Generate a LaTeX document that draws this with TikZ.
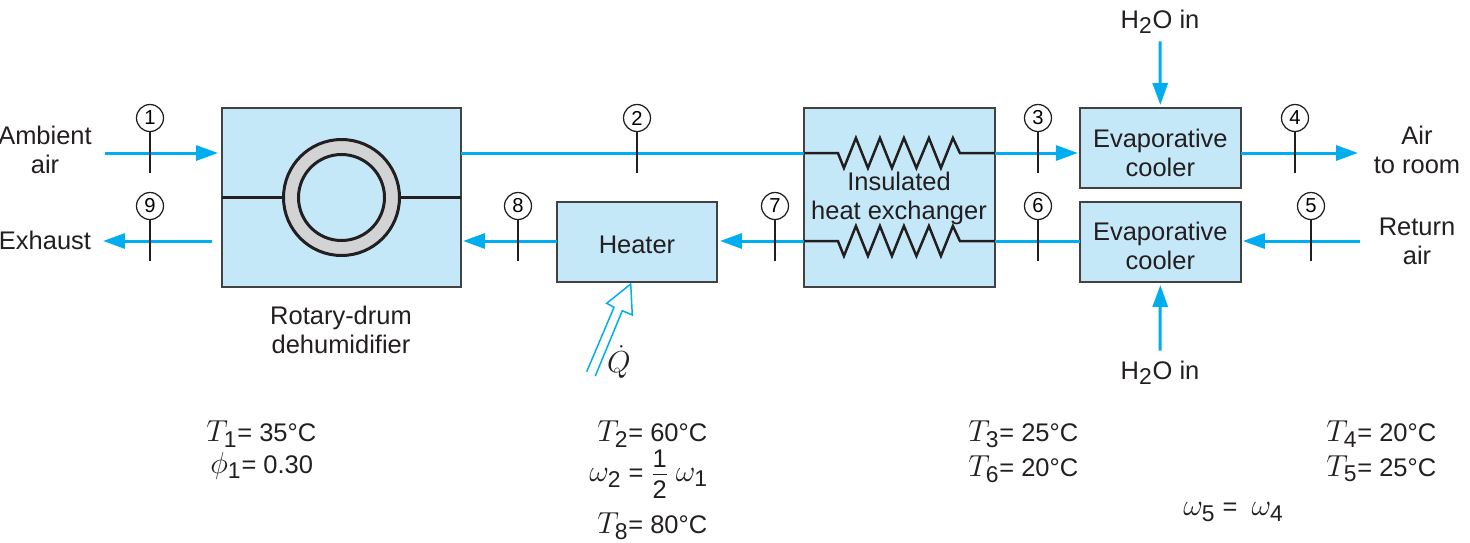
\documentclass[tikz,border=0pt]{standalone}
\usepackage{fontspec}
\setmainfont{Liberation Sans}
\DeclareMathSizes{14.5}{16.5}{13}{11}
\usetikzlibrary{positioning, arrows.meta}
\definecolor{flowblue}{HTML}{00AEEF}
\definecolor{boxblue}{HTML}{C5E8F9}
\definecolor{ringgray}{HTML}{D1D3D4}
\definecolor{inkdark}{HTML}{231F20}
\tikzset{
  box/.style     = {draw=inkdark!85, fill=boxblue, line width=0.04cm, inner sep=0pt, outer sep=0pt, align=center},
  wire/.style    = {draw=inkdark, line width=0.05cm},
  flow/.style    = {draw=flowblue, line width=0.06cm},
  arrow/.style   = {flow, -{Triangle[length=0.44cm, width=0.3cm]}},
  tag/.style     = {draw=inkdark, fill=white, circle, line width=0.025cm, minimum size=0.54cm, inner sep=0pt, font=\fontsize{11.5}{12}\selectfont},
  tick/.style    = {draw=inkdark, line width=0.025cm},
  label/.style   = {align=center, inner sep=0pt, text=inkdark},
  eqn/.style     = {anchor=west, inner sep=0pt, text=inkdark}
}
\begin{document}
\begin{tikzpicture}[x=0.02cm, y=-0.02cm,
  font=\fontsize{14.5}{16.5}\selectfont,
  coil/.pic={\draw[wire] (0,0) -- (34,0) -- (40,15) -- (52,-15) -- (64,15) -- (76,-15) -- (88,15) -- (100,-15)
    -- (112.5,15) -- (125,-15) -- (137,15) -- (149,-15) -- (156,0) -- (191,0);}
]
  \useasboundingbox (0,0) rectangle (1470,542);
  \coordinate (rowup) at (0,153);
  \coordinate (rowlo) at (0,241);

  % boxes
  \node[box, minimum width=4.78cm, minimum height=3.58cm] (drum) at (341.5,197.5) {};
  \node[box, minimum width=3.82cm, minimum height=3.58cm, right=6.86cm of drum] (hx) {};
  \node[box, minimum width=3.2cm, minimum height=1.6cm] (heater) at (637,242) {};
  \node[box, minimum width=3.22cm, minimum height=1.6cm, right=1.7cm of hx.north east, anchor=north west] (cool1) {};
  \node[box, minimum width=3.22cm, minimum height=1.6cm, below=0.28cm of cool1] (cool2) {};

  % drum wheel
  \draw[wire] (drum.west) -- (drum.east);
  \node[draw=inkdark, line width=0.06cm, fill=ringgray, circle, minimum size=2.32cm, inner sep=0pt] (ring) at (drum.center) {};
  \node[draw=inkdark, line width=0.06cm, fill=boxblue, circle, minimum size=1.72cm, inner sep=0pt] (bore) at (drum.center) {};

  % text
  \node[label] (heattxt) at ([yshift=-0.06cm] heater.center) {Heater};
  \node[label] (cooltxt1) at ([yshift=-0.09cm] cool1.center) {Evaporative\\cooler};
  \node[label] (cooltxt2) at ([yshift=-0.07cm] cool2.center) {Evaporative\\cooler};
  \node[label] (ambient) at (45,150) {Ambient\\air};
  \node[label] (exhaust) at (45,240) {Exhaust};
  \node[label] (drumtxt) at (341,330) {Rotary-drum\\dehumidifier};
  \node[label] (hxtxt) at (899,198) {Insulated\\heat exchanger};
  \node[label] (room) at (1417,150) {Air\\to room};
  \node[label] (return) at (1417,241) {Return\\air};
  \node[label] (h2oup) at (1160,22) {H$_{\mathrm{2}}$O in};
  \node[label] (h2olo) at (1160,373) {H$_{\mathrm{2}}$O in};
  \coordinate (inair) at (105,153);
  \coordinate (outair) at (103,241);
  \coordinate (roomend) at (1358,153);
  \coordinate (retend) at (1360,241);

  % flows
  \draw[arrow] (inair) -- ([xshift=-0.08cm] drum.west |- rowup);
  \draw[arrow] ([xshift=-0.2cm] drum.west |- rowlo) -- (outair);
  \draw[flow] (drum.east |- rowup) -- (hx.west |- rowup);
  \draw[arrow] (hx.east |- rowup) -- ([xshift=-0.04cm] cool1.west |- rowup);
  \draw[arrow] (cool1.east |- rowup) -- (roomend);
  \draw[arrow] (retend) -- ([xshift=0.04cm] cool2.east |- rowlo);
  \draw[flow] (cool2.west |- rowlo) -- (hx.east |- rowlo);
  \draw[arrow] (hx.west |- rowlo) -- ([xshift=0.06cm] heater.east |- rowlo);
  \draw[arrow] (heater.west |- rowlo) -- ([xshift=0.04cm] drum.east |- rowlo);
  \draw[arrow] ([yshift=-0.14cm] h2oup.south) -- ([yshift=0.06cm] cool1.north);
  \draw[arrow] ([yshift=0.2cm] h2olo.north) -- ([yshift=-0.06cm] cool2.south);

  \pic at (hx.west |- rowup) {coil};
  \pic at (hx.west |- rowlo) {coil};

  % state points
  \foreach \n/\x/\y in {1/150/118, 2/637/118, 3/1038/118, 4/1295/118, 5/1311/206, 6/1038/206, 7/775/206, 8/518/206, 9/150/206} {
    \node[tag] (st\n) at (\x,\y) {\n};
    \draw[tick] (st\n.south) -- ++(0,41);
  }

  % heat input
  \coordinate (qtip) at (630.7,284);
  \draw[draw=flowblue, line width=0.03cm] (586.7,371.7) -- (614,307.3) -- (606.7,303.3) -- (qtip) -- (632.3,315) -- (622.3,310.7) -- (595.3,376);
  \node[label] (qdot) at (619,362) {$\dot{Q}$};

  % data
  \node[eqn] (t1) at (206,434) {$T_{\mathrm{1}}$= 35°C};
  \node[eqn] (phi1) at (210,466) {$\phi_{\mathrm{1}}$= 0.30};
  \node[eqn] (t2) at (597,434) {$T_{\mathrm{2}}$= 60°C};
  \node[eqn] (w2) at (589,476) {$\omega_{\mathrm{2}}$ = $\displaystyle\frac{\raisebox{-3.5pt}{1}}{\raisebox{2.3pt}{2}}$ $\omega_{\mathrm{1}}$};
  \node[eqn] (t8) at (597,526) {$T_{\mathrm{8}}$= 80°C};
  \node[eqn] (t3) at (968,434) {$T_{\mathrm{3}}$= 25°C};
  \node[eqn] (t6) at (968,469) {$T_{\mathrm{6}}$= 20°C};
  \node[eqn] (t4) at (1326,434) {$T_{\mathrm{4}}$= 20°C};
  \node[eqn] (t5) at (1326,469) {$T_{\mathrm{5}}$= 25°C};
  \node[eqn] (w5) at (1183,512) {$\omega_{\mathrm{5}}$ =\ \ $\omega_{\mathrm{4}}$};
\end{tikzpicture}
\end{document}
